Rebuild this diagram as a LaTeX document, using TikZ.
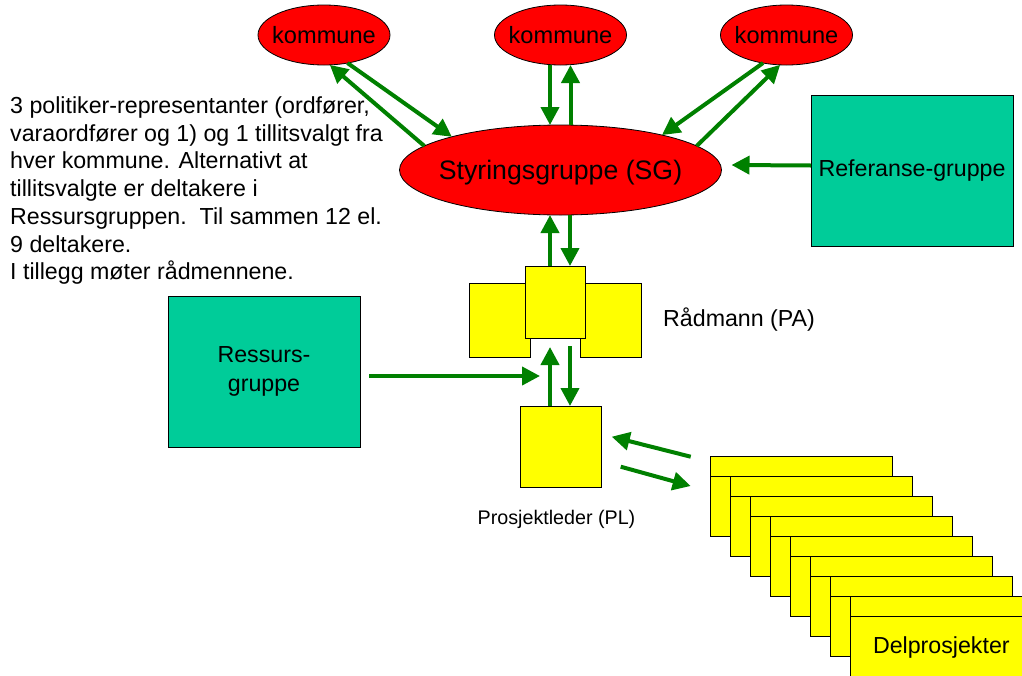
\documentclass[tikz,border=0pt]{standalone}
\usepackage{fontspec}
\setmainfont{Liberation Sans}
\usetikzlibrary{shapes.geometric,arrows.meta,positioning}
\definecolor{gronn}{RGB}{0,128,0}
\definecolor{turkis}{RGB}{0,204,153}
\definecolor{gul}{RGB}{255,255,0}

\begin{document}
\begin{tikzpicture}[x=1pt,y=-1pt,
    tekst/.style={font=\fontsize{23.2}{27.7}\selectfont, inner sep=0pt},
    kommune/.style={ellipse, draw=black, line width=0.8pt, fill=red,
      minimum width=132pt, minimum height=60pt, inner sep=0pt, outer sep=0pt,
      label={[font=\fontsize{23.6}{28}\selectfont]center:kommune}},
    gruppe/.style={rectangle, draw=black, line width=1pt, fill=turkis,
      tekst, align=center, outer sep=0pt},
    gulboks/.style={rectangle, draw=black, line width=1pt, fill=gul,
      inner sep=0pt, outer sep=0pt},
    delboks/.style={gulboks, minimum width=181.3pt, minimum height=80pt},
    flyt/.style={draw=gronn, line width=4pt, -{Triangle[length=18pt,width=18pt]}}]
  \useasboundingbox (0,0) rectangle (1022,675);

  % kommunene og styringsgruppa
  \node[kommune] (k1) at (324,35) {};
  \node[kommune] (k2) at (560.5,35) {};
  \node[kommune] (k3) at (786.5,35) {};
  \node[ellipse, draw=black, line width=0.8pt, fill=red, minimum width=322pt,
    minimum height=90pt, inner sep=0pt, outer sep=0pt,
    label={[font=\fontsize{26.7}{32}\selectfont, yshift=-3pt]center:Styringsgruppe (SG)}]
    (sg) at (560.5,170) {};

  % grupper
  \node[gruppe, minimum width=202pt, minimum height=151pt] (ref) at (912,170.5) {Referanse-gruppe};
  \node[gruppe, minimum width=192pt, minimum height=151pt,
    font=\fontsize{23.2}{29}\selectfont] (res) at (264,371.5) {Ressurs-\\gruppe};

  % raadmann
  \node[gulboks, minimum width=61pt, minimum height=74pt] (pav) at (499.5,320) {};
  \node[gulboks, minimum width=61pt, minimum height=74pt] (pah) at (610.5,320) {};
  \node[gulboks, minimum width=60pt, minimum height=72pt] (pa) at (555,302) {};
  \node[tekst, right=22pt of pah] (palabel) {Rådmann (PA)};

  % prosjektleder
  \node[gulboks, minimum width=81pt, minimum height=81pt] (pl) at (560.5,446.5) {};
  \node[font=\fontsize{19.7}{24}\selectfont, inner sep=0pt, below=23pt of pl,
    xshift=-4pt] (pllabel) {Prosjektleder (PL)};

  % delprosjekter
  \foreach \i in {0,...,7} {
    \node[delboks] (d\i) at (801.35+20*\i,496.7+20*\i) {};
    \draw[line width=1pt] ([yshift=-20pt]d\i.north west) -- ([yshift=-20pt]d\i.north east);
  }
  \node[tekst] (delnavn) at ([yshift=-11pt]d7.center) {Delprosjekter};

  % forklaring
  \node[tekst, anchor=north west, align=left] (info) at (10,96.5)
    {3 politiker-representanter (ordfører,\\
     varaordfører og 1) og 1 tillitsvalgt fra\\
     hver kommune. Alternativt at\\
     tillitsvalgte er deltakere i\\
     Ressursgruppen.\ \ Til sammen 12 el.\\
     9 deltakere.\\
     I tillegg møter rådmennene.};

  % piler
  \draw[flyt] (sg.170) -- (k1.-79);
  \draw[flyt] (k1.-50) -- (sg.163);
  \draw[flyt] ([xshift=-10.5pt]k2.south) -- ([xshift=-10.5pt]sg.north);
  \draw[flyt] ([xshift=10pt]sg.north) -- ([xshift=10pt]k2.south);
  \draw[flyt] (k3.-130) -- (sg.19);
  \draw[flyt] (sg.10) -- (k3.-102);
  \draw[flyt] ([yshift=5pt]ref.west) -- ([xshift=10pt,yshift=5pt]sg.east);
  \draw[flyt] ([xshift=-5pt]pa.north) -- ([xshift=-10.5pt]sg.south);
  \draw[flyt] ([xshift=9.5pt]sg.south) -- ([xshift=15pt]pa.north);
  \draw[flyt] ([xshift=-10.5pt]pl.north) -- ([xshift=-5pt,yshift=-9pt]pa.south);
  \draw[flyt] ([xshift=15pt,yshift=-8pt]pa.south) -- ([xshift=9.5pt]pl.north);
  \coordinate (inn) at (540,376);
  \draw[flyt] ([xshift=9pt,yshift=-4.5pt]res.east) -- (inn);
  \draw[flyt] ([xshift=-20pt]d0.north west) -- ([xshift=10.7pt,yshift=9.8pt]pl.east);
  \draw[flyt] ([xshift=19.7pt,yshift=-20.2pt]pl.east) -- ([xshift=-20pt,yshift=-29.3pt]d0.north west);
\end{tikzpicture}
\end{document}
